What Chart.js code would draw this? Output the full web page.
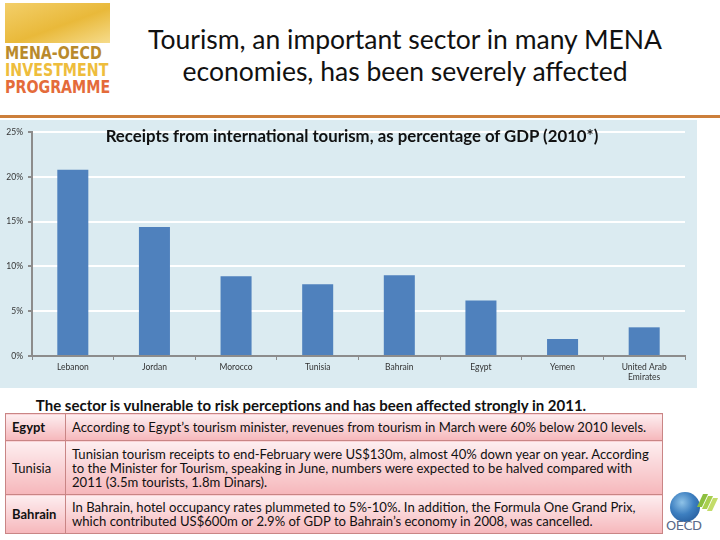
<!DOCTYPE html>
<html>
<head>
<meta charset="utf-8">
<script src="https://cdn.jsdelivr.net/npm/chart.js@4.4.1/dist/chart.umd.min.js"></script>
<style>
  html, body { margin: 0; padding: 0; background: #fff; }
  body { width: 720px; height: 540px; position: relative; overflow: hidden; font-family: Lato, "Open Sans", sans-serif; }
  .abs { position: absolute; }
  #logoArt { left: 5px; top: 3px; width: 105px; height: 40px;
    background: linear-gradient(160deg, #f3cf6a 0%, #e9b93a 55%, #f6dc8c 100%); }
  .logoTxt { left: 5px; font-family: "Liberation Sans Narrow", "DejaVu Sans Condensed", sans-serif;
    font-weight: bold; font-size: 17px; line-height: 17px; white-space: nowrap; transform-origin: left top; transform: scaleX(0.93); }
  #mainTitle { left: 110px; top: 23px; width: 590px; text-align: center; font-size: 26.5px; line-height: 32px; color: #111; }
  #rule { left: 0; top: 115px; width: 720px; height: 3px; background: #cc7f3b; }
  #panel { left: 0; top: 120px; width: 697px; height: 268px; background: #dbebf1; }
  #chartTitle { left: 0; top: 125px; width: 704px; text-align: center; font-weight: bold; font-size: 16.8px; color: #111; }
  #subHead { left: 0; top: 396px; width: 622px; text-align: center; font-weight: bold; font-size: 15px; color: #111; }
  table { position: absolute; left: 5px; top: 413px; width: 658px; border-collapse: collapse; font-size: 13.1px; color: #111; }
  td { border: 1px solid #c98585; background: linear-gradient(#fdeef0, #f6b7bb); padding: 0 4px 0 6px; line-height: 14px; }
  td.c { width: 49px; font-weight: bold; font-size: 13px; }
  #oecdGlobe { left: 670px; top: 492px; width: 30px; height: 30px; border-radius: 50%;
    background: radial-gradient(circle at 40% 35%, #8fc3e8 0%, #3d7fc0 45%, #1d4f8f 100%); }
  #oecdTxt { left: 666px; top: 518px; font-family: "DejaVu Sans", sans-serif; font-size: 13px; color: #5a6a8a; letter-spacing: -0.5px; }
  .chev { width: 5px; height: 13px; transform: skewX(-25deg); }
</style>
</head>
<body>
<div id="logoArt" class="abs"></div>
<div class="abs logoTxt" style="top:45px;color:#b98a2c;">MENA-OECD</div>
<div class="abs logoTxt" style="top:62px;color:#eebd3c;">INVESTMENT</div>
<div class="abs logoTxt" style="top:79px;color:#e46b3a;">PROGRAMME</div>

<div id="mainTitle" class="abs">Tourism, an important sector in many MENA<br>economies, has been severely affected</div>
<div id="rule" class="abs"></div>
<div id="panel" class="abs"></div>
<canvas id="c" class="abs" style="left:0;top:120px;"></canvas>
<div id="chartTitle" class="abs">Receipts from international tourism, as percentage of GDP (2010*)</div>

<div id="subHead" class="abs">The sector is vulnerable to risk perceptions and has been affected strongly in 2011.</div>
<table>
  <tr style="height:27px"><td class="c">Egypt</td><td>According to Egypt’s tourism minister, revenues from tourism in March were 60% below 2010 levels.</td></tr>
  <tr style="height:54px"><td class="c" style="font-weight:normal">Tunisia</td><td>Tunisian tourism receipts to end-February were US$130m, almost 40% down year on year. According<br>to the Minister for Tourism, speaking in June, numbers were expected to be halved compared with<br>2011 (3.5m tourists, 1.8m Dinars).</td></tr>
  <tr style="height:39px"><td class="c">Bahrain</td><td>In Bahrain, hotel occupancy rates plummeted to 5%-10%. In addition, the Formula One Grand Prix,<br>which contributed US$600m or 2.9% of GDP to Bahrain’s economy in 2008, was cancelled.</td></tr>
</table>

<div id="oecdGlobe" class="abs"></div>
<div class="abs chev" style="left:700px;top:494px;background:#8cbf3f;"></div>
<div class="abs chev" style="left:705px;top:496px;background:#a8cf4f;"></div>
<div class="abs chev" style="left:710px;top:498px;background:#c3dc6a;"></div>
<div id="oecdTxt" class="abs">OECD</div>

<script>
const countries = ['Lebanon', 'Jordan', 'Morocco', 'Tunisia', 'Bahrain', 'Egypt', 'Yemen', ['United Arab', 'Emirates']];
const receiptsPct = [20.8, 14.4, 8.9, 8.0, 9.0, 6.2, 1.9, 3.2];
const yTicks = [0, 5, 10, 15, 20, 25];

const cv = document.getElementById('c');
cv.width = 697; cv.height = 268;
cv.style.width = '697px'; cv.style.height = '268px';

const tickFont = { family: 'Lato, "Open Sans", sans-serif', size: 8.5 };

new Chart(cv, {
  type: 'bar',
  data: {
    labels: countries,
    datasets: [{ data: receiptsPct, backgroundColor: '#4f81bd', barPercentage: 0.38, categoryPercentage: 1 }]
  },
  options: {
    responsive: false, animation: false,
    layout: { padding: { top: 12, right: 12, left: 0, bottom: 0 } },
    plugins: { legend: { display: false }, tooltip: { enabled: false }, title: { display: false } },
    scales: {
      x: {
        grid: { display: true, drawOnChartArea: false, tickLength: 4, tickColor: '#8c8c8c', lineWidth: 1, offset: true },
        border: { color: '#8c8c8c', width: 2 },
        ticks: { color: '#333', font: tickFont, maxRotation: 0, autoSkip: false, padding: 2 },
        afterFit: s => { s.height = 32; }
      },
      y: {
        min: 0, max: 25,
        afterBuildTicks: s => { s.ticks = yTicks.map(v => ({ value: v })); },
        grid: { color: c => c.tick && c.tick.value === 0 ? '#8c8c8c' : '#ffffff', lineWidth: 2,
                tickLength: 4, tickColor: '#8c8c8c' },
        border: { color: '#8c8c8c', width: 2 },
        ticks: { color: '#333', font: tickFont, padding: 5, callback: v => v + '%' },
        afterFit: s => { s.width = 32; }
      }
    }
  }
});
</script>
</body>
</html>
